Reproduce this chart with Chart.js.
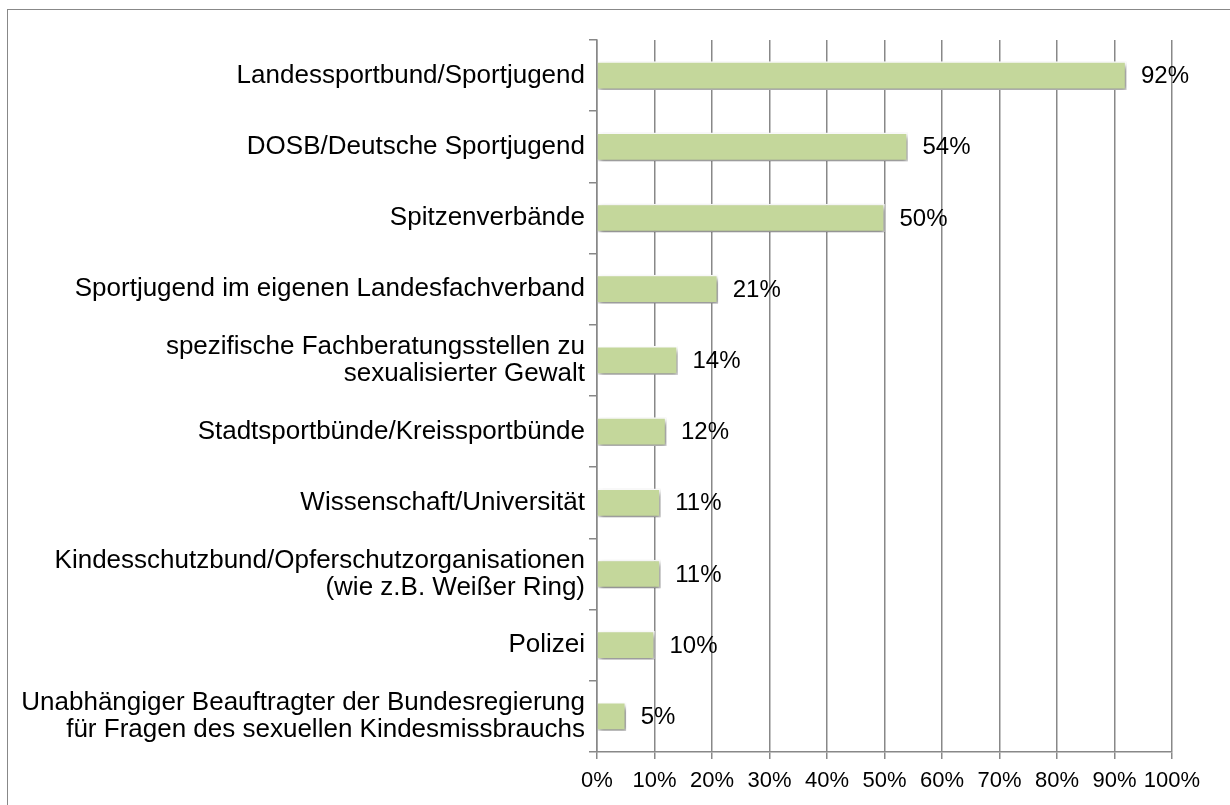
<!DOCTYPE html>
<html>
<head>
<meta charset="utf-8">
<script src="https://cdn.jsdelivr.net/npm/chart.js@4/dist/chart.umd.min.js"></script>
<style>
  html, body { margin: 0; padding: 0; background: #fff; }
  #wrap { position: relative; width: 1230px; height: 805px; overflow: hidden; }
  #frame { position: absolute; left: 7px; top: 9px; width: 1300px; height: 900px;
           border-top: 1.5px solid #888; border-left: 1.5px solid #888; }
  #chart { position: absolute; left: 0; top: 0; }
</style>
</head>
<body>
<div id="wrap">
  <div id="frame"></div>
  <canvas id="chart" width="1230" height="805"></canvas>
</div>
<script>
// Data
const categories = [
  "Landessportbund/Sportjugend",
  "DOSB/Deutsche Sportjugend",
  "Spitzenverbände",
  "Sportjugend im eigenen Landesfachverband",
  ["spezifische Fachberatungsstellen zu", "sexualisierter Gewalt"],
  "Stadtsportbünde/Kreissportbünde",
  "Wissenschaft/Universität",
  ["Kindesschutzbund/Opferschutzorganisationen", "(wie z.B. Weißer Ring)"],
  "Polizei",
  ["Unabhängiger Beauftragter der Bundesregierung", "für Fragen des sexuellen Kindesmissbrauchs"]
];
const values = [92, 54, 50, 21, 14, 12, 11, 11, 10, 5];
const xTicks = [0, 10, 20, 30, 40, 50, 60, 70, 80, 90, 100];

// Settings
const FONT = "'Liberation Sans', Arial, sans-serif";
const FONT_SIZE = 22;
const LABEL_SIZE = 26;
const VALUE_SIZE = 24;
const LINE_COLOR = "#888";

// shadow under the bars, value labels after
const barShadow = {
  id: "barShadow",
  beforeDatasetsDraw(chart) {
    const ctx = chart.ctx;
    ctx.save();
    ctx.shadowColor = "rgba(0,0,0,0.5)";
    ctx.shadowBlur = 5;
    ctx.shadowOffsetX = 2;
    ctx.shadowOffsetY = 3;
  },
  afterDatasetsDraw(chart) {
    const ctx = chart.ctx;
    ctx.restore();

    ctx.save();
    ctx.font = VALUE_SIZE + "px " + FONT;
    ctx.fillStyle = "#000";
    ctx.textAlign = "left";
    ctx.textBaseline = "middle";
    chart.getDatasetMeta(0).data.forEach((bar, i) => {
      ctx.fillText(values[i] + "%", bar.x + 15, bar.y + 1);
    });
    ctx.restore();
  }
};

const ctx = document.getElementById("chart").getContext("2d");
new Chart(ctx, {
  type: "bar",
  data: {
    labels: categories,
    datasets: [{
      data: values,
      backgroundColor: "#c4d79b",
      borderColor: "#ffffff",
      borderWidth: 1.5,
      barThickness: 28
    }]
  },
  options: {
    indexAxis: "y",
    responsive: false,
    animation: false,
    layout: { padding: { top: 40, right: 58, bottom: 0, left: 0 } },
    plugins: {
      legend: { display: false },
      tooltip: { enabled: false }
    },
    scales: {
      x: {
        min: 0,
        max: 100,
        afterBuildTicks: (scale) => {
          scale.ticks = xTicks.map(v => ({ value: v }));
        },
        afterFit: (scale) => { scale.height = 53; },
        ticks: {
          callback: (v) => v + "%",
          color: "#000",
          padding: 9,
          maxRotation: 0,
          autoSkip: false,
          font: { family: FONT, size: FONT_SIZE }
        },
        grid: { color: LINE_COLOR, lineWidth: 1.5, tickLength: 7 },
        border: { color: LINE_COLOR, width: 1.5 }
      },
      y: {
        afterFit: (scale) => { scale.width = 597; },
        ticks: {
          color: "#000",
          padding: 4,
          autoSkip: false,
          font: { family: FONT, size: LABEL_SIZE, lineHeight: 1.05 }
        },
        grid: { drawOnChartArea: false, color: LINE_COLOR, lineWidth: 1.5, tickLength: 8, offset: true },
        border: { color: LINE_COLOR, width: 1.5 }
      }
    }
  },
  plugins: [barShadow]
});
</script>
</body>
</html>
